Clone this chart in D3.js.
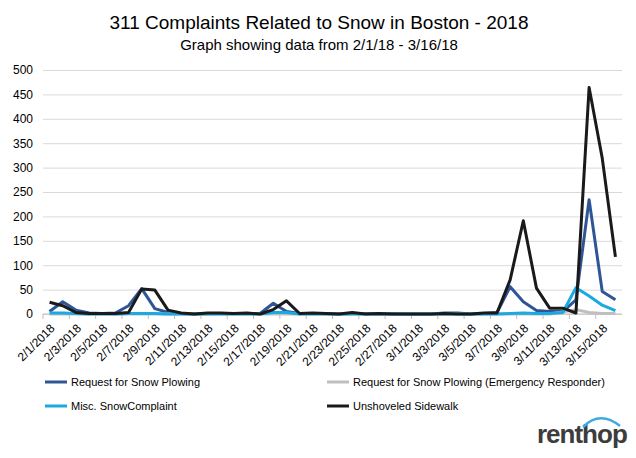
<!DOCTYPE html>
<html>
<head>
<meta charset="utf-8">
<script src="https://cdn.jsdelivr.net/npm/d3@7"></script>
<style>
  body { margin: 0; background: #fff; }
  svg { display: block; font-family: "Liberation Sans", Arial, sans-serif; }
</style>
</head>
<body>
<div id="chart"></div>
<script>
// dates shown on the x axis (one category per day)
const dates = ["2/1/2018","2/2/2018","2/3/2018","2/4/2018","2/5/2018","2/6/2018","2/7/2018","2/8/2018","2/9/2018","2/10/2018",
  "2/11/2018","2/12/2018","2/13/2018","2/14/2018","2/15/2018","2/16/2018","2/17/2018","2/18/2018","2/19/2018","2/20/2018",
  "2/21/2018","2/22/2018","2/23/2018","2/24/2018","2/25/2018","2/26/2018","2/27/2018","2/28/2018","3/1/2018","3/2/2018",
  "3/3/2018","3/4/2018","3/5/2018","3/6/2018","3/7/2018","3/8/2018","3/9/2018","3/10/2018","3/11/2018","3/12/2018",
  "3/13/2018","3/14/2018","3/15/2018","3/16/2018"];

// series values
const snowPlowing = [5,25,8,2,1,2,17,52,11,3, 1,0,1,1,1,1,1,22,5,1, 1,1,0,1,1,0,1,0,0,0, 2,2,0,1,3,56,25,7,5,5, 29,234,46,29];
const snowPlowingEmergency = [0,0,0,0,0,0,0,0,0,0, 0,0,0,0,0,0,0,0,0,0, 0,0,0,0,0,0,0,0,0,0, 0,0,0,0,0,0,0,0,0,4, 9,3,1,1];
const miscSnow = [2,2,1,0,0,0,1,1,1,0, 0,0,0,0,0,0,0,3,3,0, 0,0,0,0,0,0,0,0,0,0, 0,0,0,0,0,1,2,1,1,3, 54,37,18,7];
const unshoveled = [24,17,3,1,1,1,3,51,49,8, 2,0,2,2,1,2,0,9,27,1, 2,1,0,3,0,1,0,0,0,0, 1,0,0,2,2,70,191,53,12,12, 2,464,319,117];

const yTicks = [0,50,100,150,200,250,300,350,400,450,500];

const series = [
  {name: "Request for Snow Plowing", values: snowPlowing, color: "#2f5597"},
  {name: "Request for Snow Plowing (Emergency Responder)", values: snowPlowingEmergency, color: "#bfbfbf"},
  {name: "Misc. SnowComplaint", values: miscSnow, color: "#1aa9e0"},
  {name: "Unshoveled Sidewalk", values: unshoveled, color: "#1a1a1a"}
];

const width = 636, height = 458;
const plot = {left: 43, right: 622, top: 70, bottom: 314};

const svg = d3.select("#chart").append("svg")
  .attr("width", width)
  .attr("height", height);

svg.append("rect").attr("width", width).attr("height", height).attr("fill", "#fff");

// titles
svg.append("text")
  .attr("x", 319).attr("y", 29)
  .attr("text-anchor", "middle")
  .style("font-size", "19px")
  .attr("fill", "#000")
  .text("311 Complaints Related to Snow in Boston - 2018");
svg.append("text")
  .attr("x", 319).attr("y", 50)
  .attr("text-anchor", "middle")
  .style("font-size", "15px")
  .attr("fill", "#000")
  .text("Graph showing data from 2/1/18 - 3/16/18");

// scales
const x = d3.scaleBand().domain(dates).range([plot.left, plot.right]);
const y = d3.scaleLinear().domain([0, 500]).range([plot.bottom, plot.top]);
const cx = d => x(d) + x.bandwidth() / 2;

// y axis with gridlines
const yAxis = svg.append("g")
  .attr("transform", `translate(${plot.left},0)`)
  .call(d3.axisLeft(y).tickValues(yTicks).tickSize(-(plot.right - plot.left)).tickPadding(10));
yAxis.select(".domain").remove();
yAxis.selectAll(".tick line").attr("stroke", "#d9d9d9").attr("stroke-width", 1);
yAxis.selectAll(".tick text")
  .style("font-size", "12px")
  .attr("fill", "#000");

// x axis baseline + tick marks every two days
svg.append("line")
  .attr("x1", plot.left).attr("x2", plot.right)
  .attr("y1", plot.bottom).attr("y2", plot.bottom)
  .attr("stroke", "#bfbfbf");
const tickDates = dates.filter((d, i) => i % 2 === 0);
svg.append("g").selectAll("line")
  .data(tickDates)
  .enter().append("line")
  .attr("x1", d => x(d)).attr("x2", d => x(d))
  .attr("y1", plot.bottom).attr("y2", plot.bottom + 5)
  .attr("stroke", "#bfbfbf");

// rotated date labels
svg.append("g").selectAll("text")
  .data(tickDates)
  .enter().append("text")
  .attr("transform", d => `translate(${cx(d) + 3},${plot.bottom + 12}) rotate(-45)`)
  .attr("text-anchor", "end")
  .attr("dy", "0.35em")
  .style("font-size", "12px")
  .attr("fill", "#000")
  .text(d => d);

// lines
const line = d3.line()
  .x((v, i) => cx(dates[i]))
  .y(v => y(v));

svg.append("g").selectAll("path")
  .data(series)
  .enter().append("path")
  .attr("d", s => line(s.values))
  .attr("fill", "none")
  .attr("stroke", s => s.color)
  .attr("stroke-width", 3)
  .attr("stroke-linejoin", "round");

// legend
const legendPos = [[45, 382], [327, 382], [45, 406], [327, 406]];
const legend = svg.append("g").selectAll("g")
  .data(series)
  .enter().append("g")
  .attr("transform", (d, i) => `translate(${legendPos[i][0]},${legendPos[i][1]})`);
legend.append("line")
  .attr("x1", 0).attr("x2", 22)
  .attr("stroke", d => d.color)
  .attr("stroke-width", 3);
legend.append("text")
  .attr("x", 26)
  .attr("dy", "0.35em")
  .style("font-size", "11px")
  .attr("fill", "#000")
  .text(d => d.name);

// renthop logo
svg.append("text")
  .attr("x", 537).attr("y", 443)
  .style("font-size", "26px")
  .style("font-weight", "bold")
  .style("letter-spacing", "-1px")
  .attr("fill", "#3c3c3c")
  .text("renthop");
svg.append("path")
  .attr("d", "M583,427 Q600,410 620,426")
  .attr("fill", "none")
  .attr("stroke", "#3fa9e0")
  .attr("stroke-width", 2.5);
</script>
</body>
</html>
